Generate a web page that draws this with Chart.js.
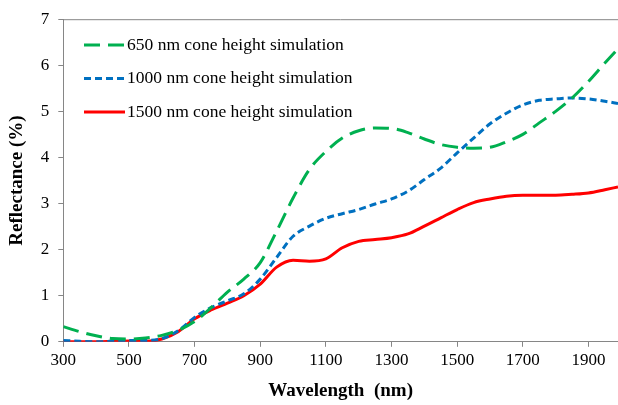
<!DOCTYPE html>
<html>
<head>
<meta charset="utf-8">
<script src="https://cdn.jsdelivr.net/npm/chart.js@4"></script>
<style>
  html, body { margin: 0; padding: 0; background: #fff; }
  canvas { display: block; }
</style>
</head>
<body>
<canvas id="chart" width="618" height="405"></canvas>
<script>
const wavelengths = [
    300, 350, 400, 450, 500, 550, 600, 650, 700, 750,
    800, 850, 900, 950, 1000, 1050, 1100, 1150, 1200, 1250,
    1300, 1350, 1400, 1450, 1500, 1550, 1600, 1650, 1700, 1750,
    1800, 1850, 1900, 1950, 1990
];

const cone650 = [
    0.33, 0.22, 0.13, 0.07, 0.06, 0.08, 0.14, 0.25, 0.44, 0.74,
    1.08, 1.36, 1.72, 2.40, 3.12, 3.74, 4.13, 4.42, 4.58, 4.64,
    4.63, 4.54, 4.40, 4.28, 4.22, 4.20, 4.22, 4.34, 4.50, 4.75,
    5.00, 5.29, 5.65, 6.05, 6.36
];

const cone1000 = [
    0.03, 0.01, 0.00, 0.01, 0.03, 0.03, 0.07, 0.24, 0.53, 0.74,
    0.89, 1.04, 1.36, 1.83, 2.29, 2.51, 2.68, 2.78, 2.87, 2.99,
    3.10, 3.27, 3.52, 3.77, 4.10, 4.42, 4.73, 4.96, 5.14, 5.24,
    5.27, 5.29, 5.27, 5.22, 5.17
];

const cone1500 = [
    0.00, 0.00, 0.00, 0.01, 0.02, 0.01, 0.06, 0.22, 0.50, 0.69,
    0.84, 1.00, 1.25, 1.62, 1.77, 1.75, 1.80, 2.04, 2.18, 2.22,
    2.26, 2.34, 2.51, 2.69, 2.87, 3.02, 3.10, 3.16, 3.18, 3.18,
    3.18, 3.20, 3.23, 3.30, 3.36
];

const xTicks = [300, 500, 700, 900, 1100, 1300, 1500, 1700, 1900];
const yTicks = [0, 1, 2, 3, 4, 5, 6, 7];

const serif = "'Liberation Serif', 'Times New Roman', serif";
const axisGrey = "#868686";

function points(values) {
    return wavelengths.map((w, i) => ({ x: w, y: values[i] }));
}

// legend inside the plot, top left, plus the top frame line
const insideLegend = {
    id: "insideLegend",
    afterDraw(chart) {
        const ctx = chart.ctx;
        const area = chart.chartArea;
        ctx.save();
        ctx.strokeStyle = axisGrey;
        ctx.lineWidth = 1;
        ctx.beginPath();
        ctx.moveTo(area.left, area.top + 0.5);
        ctx.lineTo(area.right, area.top + 0.5);
        ctx.stroke();

        chart.data.datasets.forEach((ds, i) => {
            const y = 45 + i * 33.5;
            ctx.strokeStyle = ds.borderColor;
            ctx.lineWidth = ds.borderWidth;
            ctx.setLineDash(ds.borderDash || []);
            ctx.beginPath();
            ctx.moveTo(84, y);
            ctx.lineTo(125, y);
            ctx.stroke();
            ctx.setLineDash([]);
            ctx.fillStyle = "#000";
            ctx.font = "17.5px " + serif;
            ctx.textBaseline = "middle";
            ctx.fillText(ds.label, 127, y);
        });
        ctx.restore();
    }
};

new Chart(document.getElementById("chart"), {
    type: "line",
    data: {
        datasets: [
            {
                label: "650 nm cone height simulation",
                data: points(cone650),
                borderColor: "#00b050",
                borderWidth: 3,
                borderDash: [16, 8]
            },
            {
                label: "1000 nm cone height simulation",
                data: points(cone1000),
                borderColor: "#0070c0",
                borderWidth: 3,
                borderDash: [7, 4]
            },
            {
                label: "1500 nm cone height simulation",
                data: points(cone1500),
                borderColor: "#ff0000",
                borderWidth: 3
            }
        ]
    },
    options: {
        responsive: false,
        animation: false,
        layout: { padding: { top: 10, right: 0, left: 0, bottom: 1 } },
        elements: {
            point: { radius: 0 },
            line: { cubicInterpolationMode: "monotone", fill: false }
        },
        plugins: {
            legend: { display: false },
            tooltip: { enabled: false }
        },
        scales: {
            x: {
                type: "linear",
                min: 300,
                max: 1990,
                afterBuildTicks: scale => {
                    scale.ticks = xTicks.map(v => ({ value: v }));
                },
                grid: {
                    drawOnChartArea: false,
                    tickLength: 5,
                    color: axisGrey
                },
                border: { color: axisGrey, width: 1 },
                ticks: {
                    color: "#000",
                    font: { family: serif, size: 17 },
                    padding: 4,
                    maxRotation: 0,
                    callback: v => String(v)
                },
                title: {
                    display: true,
                    text: "Wavelength  (nm)",
                    color: "#000",
                    font: { family: serif, size: 19, weight: "bold" },
                    padding: { top: 4, bottom: 2 }
                }
            },
            y: {
                min: 0,
                max: 7,
                afterBuildTicks: scale => {
                    scale.ticks = yTicks.map(v => ({ value: v }));
                },
                grid: {
                    drawOnChartArea: false,
                    tickLength: 5,
                    color: axisGrey
                },
                border: { color: axisGrey, width: 1 },
                ticks: {
                    color: "#000",
                    font: { family: serif, size: 17 },
                    padding: 9,
                    callback: v => String(v)
                },
                title: {
                    display: true,
                    text: "Reflectance (%)",
                    color: "#000",
                    font: { family: serif, size: 19, weight: "bold" },
                    padding: { top: 6, bottom: 3 }
                }
            }
        }
    },
    plugins: [insideLegend]
});
</script>
</body>
</html>
